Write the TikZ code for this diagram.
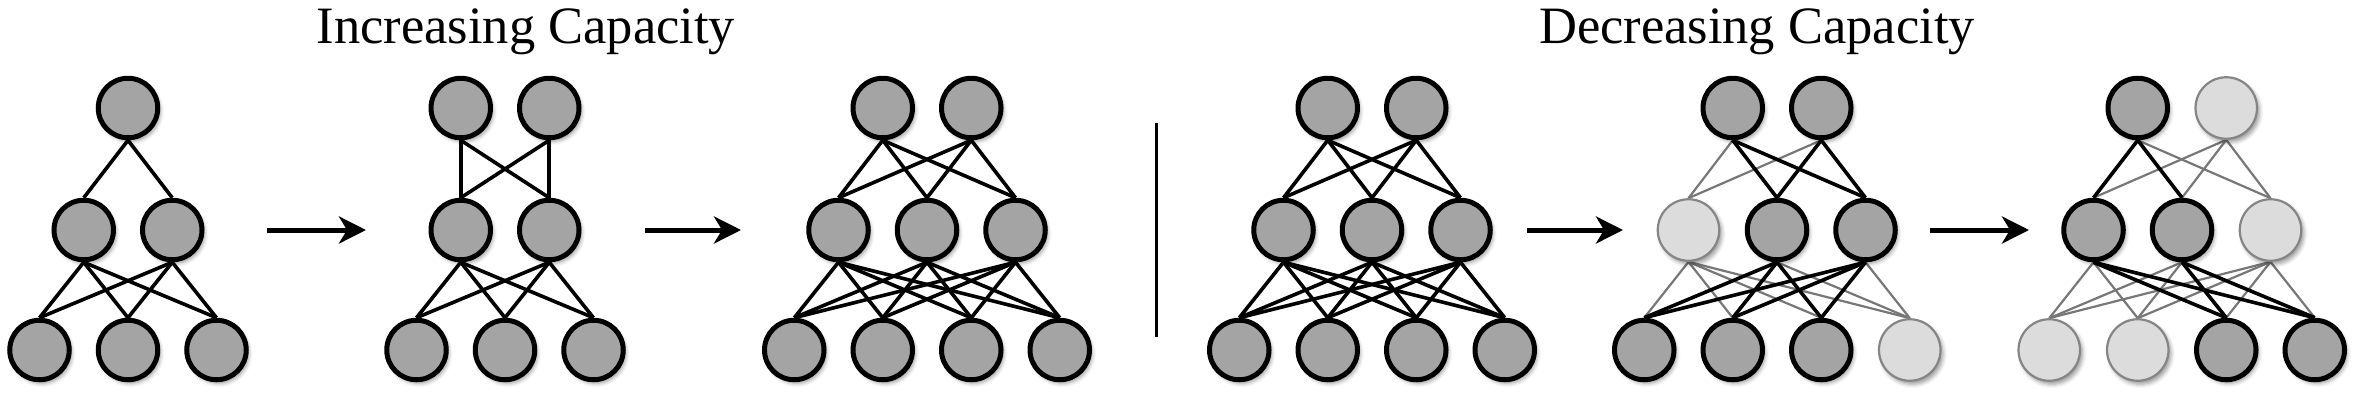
\documentclass[tikz,border=0pt]{standalone}
\usepackage{fontspec}
\setmainfont{Liberation Serif}
\usetikzlibrary{arrows.meta,shadows.blur}
\definecolor{nodedark}{HTML}{A4A4A4}
\definecolor{nodelight}{HTML}{DCDCDC}
\definecolor{lightrim}{HTML}{858585}
\definecolor{thinedge}{HTML}{777777}
\pgfdeclarelayer{bg}
\pgfsetlayers{bg,main}
\tikzset{
  softshadow/.style={blur shadow={shadow xshift=2.5pt, shadow yshift=-3.5pt, shadow blur radius=4pt, shadow opacity=40}},
  unit/.style={circle, inner sep=0pt, minimum size=59.5pt, line width=5pt, draw=black, fill=nodedark, softshadow},
  offunit/.style={circle, inner sep=0pt, minimum size=61.5pt, line width=2.2pt, draw=lightrim, fill=nodelight, softshadow},
  link/.style={line width=3.6pt, draw=black},
  faint/.style={line width=2.2pt, draw=thinedge},
  bigarrow/.style={line width=5pt, -{Stealth[length=27pt, width=27pt, inset=8pt]}},
  title/.style={font=\fontsize{52.5}{60}\selectfont, anchor=base, inner sep=0pt},
}
\begin{document}
\begin{tikzpicture}[x=1pt, y=-1pt]
\useasboundingbox (0,0) rectangle (2367,400);

% titles
\node[title] (inc) at (526,43) {Increasing Capacity};
\node[title] (dec) at (1757,43) {Decreasing Capacity};

% ---------- Network A (1-2-3) ----------
\node[unit] (a-t1) at (128,108) {};
\foreach \i/\x in {1/-44.25,2/44.25} \node[unit] (a-m\i) at (128+\x,230) {};
\foreach \i/\x in {1/-88.5,2/0,3/88.5} \node[unit] (a-b\i) at (128+\x,350) {};

% ---------- Network B (2-2-3) ----------
\foreach \i/\x in {1/-44.25,2/44.25} \node[unit] (b-t\i) at (505+\x,108) {};
\foreach \i/\x in {1/-44.25,2/44.25} \node[unit] (b-m\i) at (505+\x,230) {};
\foreach \i/\x in {1/-88.5,2/0,3/88.5} \node[unit] (b-b\i) at (505+\x,350) {};

% ---------- Network C (2-3-4) ----------
\foreach \i/\x in {1/-44.25,2/44.25} \node[unit] (c-t\i) at (927+\x,108) {};
\foreach \i/\x in {1/-88.5,2/0,3/88.5} \node[unit] (c-m\i) at (927+\x,230) {};
\foreach \i/\x in {1/-132.75,2/-44.25,3/44.25,4/132.75} \node[unit] (c-b\i) at (927+\x,350) {};

% ---------- Network D (2-3-4) ----------
\foreach \i/\x in {1/-44.25,2/44.25} \node[unit] (d-t\i) at (1372+\x,108) {};
\foreach \i/\x in {1/-88.5,2/0,3/88.5} \node[unit] (d-m\i) at (1372+\x,230) {};
\foreach \i/\x in {1/-132.75,2/-44.25,3/44.25,4/132.75} \node[unit] (d-b\i) at (1372+\x,350) {};

% ---------- Network E (pruned) ----------
\node[unit] (e-t1) at (1777-44.25,108) {};
\node[unit] (e-t2) at (1777+44.25,108) {};
\node[offunit] (e-m1) at (1777-88.5,230) {};
\node[unit] (e-m2) at (1777,230) {};
\node[unit] (e-m3) at (1777+88.5,230) {};
\node[unit] (e-b1) at (1777-132.75,350) {};
\node[unit] (e-b2) at (1777-44.25,350) {};
\node[unit] (e-b3) at (1777+44.25,350) {};
\node[offunit] (e-b4) at (1777+132.75,350) {};

% ---------- Network F (pruned more) ----------
\node[unit] (f-t1) at (2182-44.25,108) {};
\node[offunit] (f-t2) at (2182+44.25,108) {};
\node[unit] (f-m1) at (2182-88.5,230) {};
\node[unit] (f-m2) at (2182,230) {};
\node[offunit] (f-m3) at (2182+88.5,230) {};
\node[offunit] (f-b1) at (2182-132.75,350) {};
\node[offunit] (f-b2) at (2182-44.25,350) {};
\node[unit] (f-b3) at (2182+44.25,350) {};
\node[unit] (f-b4) at (2182+132.75,350) {};

% arrows and separator
\coordinate (r1s) at (267,230); \coordinate (r1e) at (366,230);
\coordinate (r2s) at (645,230); \coordinate (r2e) at (741,230);
\coordinate (r3s) at (1527,230); \coordinate (r3e) at (1623,230);
\coordinate (r4s) at (1930,230); \coordinate (r4e) at (2029,230);
\draw[bigarrow] (r1s) -- (r1e);
\draw[bigarrow] (r2s) -- (r2e);
\draw[bigarrow] (r3s) -- (r3e);
\draw[bigarrow] (r4s) -- (r4e);
\coordinate (sepT) at (1156,123); \coordinate (sepB) at (1156,337);
\draw[line width=3pt] (sepT) -- (sepB);

\begin{pgfonlayer}{bg}
% A
\foreach \j in {1,2} \draw[link] (a-t1.south) -- (a-m\j.north);
\foreach \i in {1,2} \foreach \j in {1,2,3} \draw[link] (a-m\i.south) -- (a-b\j.north);
% B
\foreach \i in {1,2} \foreach \j in {1,2} \draw[link] (b-t\i.south) -- (b-m\j.north);
\foreach \i in {1,2} \foreach \j in {1,2,3} \draw[link] (b-m\i.south) -- (b-b\j.north);
% C
\foreach \i in {1,2} \foreach \j in {1,2,3} \draw[link] (c-t\i.south) -- (c-m\j.north);
\foreach \i in {1,2,3} \foreach \j in {1,2,3,4} \draw[link] (c-m\i.south) -- (c-b\j.north);
% D
\foreach \i in {1,2} \foreach \j in {1,2,3} \draw[link] (d-t\i.south) -- (d-m\j.north);
\foreach \i in {1,2,3} \foreach \j in {1,2,3,4} \draw[link] (d-m\i.south) -- (d-b\j.north);
% E thin
\foreach \i in {1,2} \draw[faint] (e-t\i.south) -- (e-m1.north);
\foreach \j in {1,2,3,4} \draw[faint] (e-m1.south) -- (e-b\j.north);
\foreach \i in {2,3} \draw[faint] (e-m\i.south) -- (e-b4.north);
% E thick
\foreach \i in {1,2} \foreach \j in {2,3} \draw[link] (e-t\i.south) -- (e-m\j.north);
\foreach \i in {2,3} \foreach \j in {1,2,3} \draw[link] (e-m\i.south) -- (e-b\j.north);
% F thin
\draw[faint] (f-t1.south) -- (f-m3.north);
\foreach \j in {1,2,3} \draw[faint] (f-t2.south) -- (f-m\j.north);
\foreach \i in {1,2} \foreach \j in {1,2} \draw[faint] (f-m\i.south) -- (f-b\j.north);
\foreach \j in {1,2,3,4} \draw[faint] (f-m3.south) -- (f-b\j.north);
% F thick
\foreach \j in {1,2} \draw[link] (f-t1.south) -- (f-m\j.north);
\foreach \i in {1,2} \foreach \j in {3,4} \draw[link] (f-m\i.south) -- (f-b\j.north);
\end{pgfonlayer}
\end{tikzpicture}
\end{document}
